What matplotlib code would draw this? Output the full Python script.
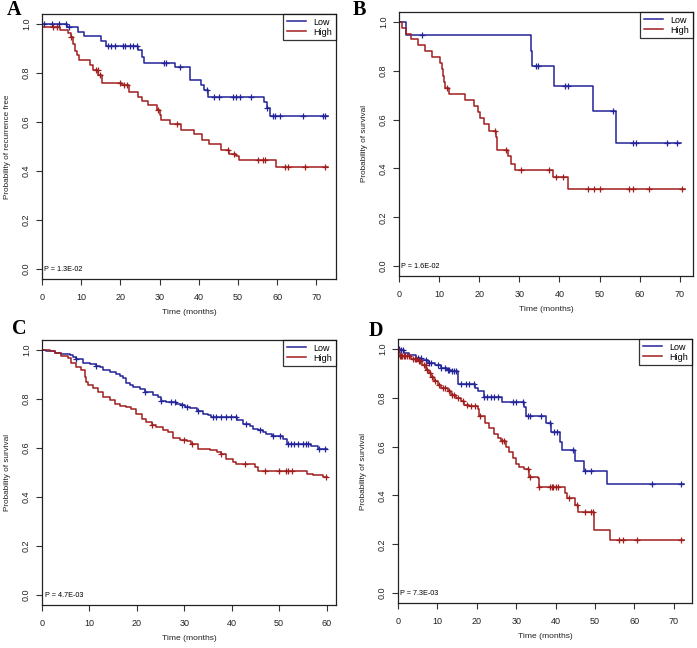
import matplotlib
matplotlib.use("Agg")
import matplotlib.pyplot as plt
import numpy as np

plt.rcParams["font.family"] = ["Liberation Sans", "DejaVu Sans"]

BLUE = "#23239a"
RED = "#a01e1e"

# Panel A - recurrence free (step times in months, survival after step, censor times)
a_low_t = [6.5, 9.3, 10.6, 15.1, 16.3, 24.6, 25.5, 26.1, 34.0, 37.8, 40.6, 41.3, 42.3, 56.6, 57.5, 58.1]
a_low_s = [0.985, 0.967, 0.95, 0.93, 0.91, 0.893, 0.865, 0.842, 0.824, 0.773, 0.75, 0.729, 0.70, 0.68, 0.657, 0.623]
a_low_c = [0.5, 2.6, 4.3, 6.2, 6.9, 16.8, 17.6, 18.5, 20.6, 21.2, 22.5, 23.3, 24.2, 31.0, 31.6, 35.3, 42.0,
           43.9, 45.1, 48.7, 49.4, 50.4, 53.4, 57.5, 58.9, 59.5, 60.6, 66.6, 71.7, 72.1]
a_high_t = [0.1, 4.6, 6.7, 7.4, 8.0, 8.3, 8.9, 9.5, 12.3, 13.1, 14.4, 15.2, 20.3, 22.2, 24.6, 25.4, 27.0,
            29.3, 30.0, 30.3, 32.7, 35.5, 38.9, 40.8, 42.5, 45.7, 47.6, 49.6, 50.2, 59.6]
a_high_s = [0.988, 0.974, 0.962, 0.947, 0.917, 0.89, 0.872, 0.854, 0.831, 0.81, 0.79, 0.76, 0.75, 0.722,
            0.702, 0.686, 0.668, 0.65, 0.627, 0.61, 0.59, 0.569, 0.55, 0.528, 0.509, 0.487, 0.471, 0.46,
            0.446, 0.416]
a_high_c = [2.9, 3.8, 7.4, 13.9, 14.3, 14.9, 19.9, 21.0, 21.6, 29.6, 34.4, 47.4, 49.0, 55.1, 56.4, 56.8,
            61.9, 62.8, 67.0, 72.3]

# Panel B - survival
b_low_t = [1.8, 32.8, 33.2, 38.7, 48.4, 54.2]
b_low_s = [0.945, 0.88, 0.818, 0.736, 0.634, 0.504]
b_low_c = [5.7, 34.2, 34.7, 41.5, 42.1, 53.4, 58.4, 59.2, 66.9, 69.4]
b_high_t = [0.8, 1.8, 3.1, 4.7, 6.6, 8.2, 10.3, 10.6, 10.9, 11.1, 11.4, 12.4, 16.5, 18.7, 19.6, 20.3,
            21.2, 22.4, 24.2, 24.4, 27.2, 28.0, 28.8, 38.4, 42.2]
b_high_s = [0.975, 0.95, 0.93, 0.905, 0.88, 0.855, 0.83, 0.805, 0.78, 0.755, 0.73, 0.706, 0.68, 0.655,
            0.63, 0.605, 0.58, 0.555, 0.53, 0.475, 0.45, 0.42, 0.395, 0.365, 0.316]
b_high_c = [12.0, 23.9, 26.8, 30.5, 37.3, 39.2, 41.0, 47.0, 48.6, 50.0, 57.3, 58.4, 62.3, 70.6]

# Panel C - survival
c_low_t = [0.9, 2.7, 4.1, 5.8, 6.5, 7.2, 8.6, 10.1, 11.3, 12.2, 12.9, 14.3, 15.7, 16.4, 17.1, 17.8, 18.5,
           19.2, 20.6, 21.7, 23.4, 24.5, 25.0, 26.2, 28.3, 29.4, 30.1, 31.2, 32.6, 34.0, 35.0, 35.7, 41.1,
           42.4, 43.8, 44.5, 45.6, 46.6, 47.3, 48.4, 50.8, 51.7, 56.8, 58.2]
c_low_s = [0.996, 0.989, 0.982, 0.980, 0.970, 0.962, 0.948, 0.941, 0.934, 0.928, 0.918, 0.911, 0.902,
           0.893, 0.884, 0.866, 0.857, 0.850, 0.840, 0.829, 0.816, 0.806, 0.791, 0.788, 0.781, 0.775,
           0.765, 0.761, 0.751, 0.740, 0.734, 0.727, 0.716, 0.699, 0.689, 0.679, 0.672, 0.665, 0.658,
           0.648, 0.638, 0.617, 0.607, 0.597]
c_low_c = [7.2, 11.3, 21.8, 25.0, 27.1, 28.0, 29.6, 30.6, 32.8, 36.0, 36.7, 37.8, 38.8, 39.9, 40.9, 43.1,
           45.9, 48.7, 50.1, 51.8, 52.5, 53.2, 54.0, 55.0, 55.7, 56.0, 58.5, 59.6]
c_high_t = [1.6, 2.7, 4.1, 5.5, 6.2, 7.2, 8.3, 9.0, 9.2, 9.7, 10.8, 11.8, 12.9, 14.3, 15.3, 16.4, 17.8,
            18.8, 19.9, 21.0, 22.0, 23.1, 24.1, 25.5, 26.6, 27.6, 29.0, 30.5, 31.5, 32.9, 35.4, 36.8,
            37.8, 38.9, 40.3, 41.0, 42.8, 44.9, 45.6, 47.3, 55.8, 57.2, 59.3]
c_high_s = [0.997, 0.986, 0.975, 0.966, 0.948, 0.932, 0.918, 0.891, 0.870, 0.857, 0.843, 0.829, 0.806,
            0.795, 0.781, 0.770, 0.765, 0.757, 0.740, 0.720, 0.706, 0.693, 0.686, 0.675, 0.665, 0.642,
            0.634, 0.628, 0.615, 0.597, 0.593, 0.583, 0.574, 0.556, 0.542, 0.536, 0.533, 0.522, 0.508,
            0.505, 0.495, 0.488, 0.481]
c_high_c = [23.2, 29.9, 31.6, 37.8, 42.8, 47.0, 49.9, 51.5, 51.8, 52.7, 59.8]

# Panel D - survival
d_low_t = [0.6, 1.5, 2.9, 4.6, 5.9, 7.6, 9.3, 11.0, 12.5, 13.5, 15.1, 19.5, 20.2, 21.7, 26.5, 32.0, 32.5,
           37.6, 38.7, 41.0, 41.6, 44.8, 47.3, 53.1]
d_low_s = [0.993, 0.983, 0.973, 0.964, 0.953, 0.942, 0.933, 0.923, 0.915, 0.908, 0.856, 0.840, 0.826,
           0.801, 0.781, 0.76, 0.725, 0.696, 0.659, 0.62, 0.586, 0.541, 0.50, 0.445]
d_low_c = [0.3, 0.8, 1.2, 5.2, 5.8, 7.0, 7.9, 8.4, 10.1, 11.0, 11.8, 12.6, 13.0, 13.7, 14.3, 14.8, 16.0,
           17.2, 18.1, 19.4, 21.9, 22.7, 23.6, 24.4, 25.3, 29.1, 29.9, 31.6, 32.9, 33.6, 36.3, 38.5, 39.7,
           40.4, 44.4, 47.5, 49.0, 64.4, 71.7]
d_high_t = [0.2, 0.4, 3.3, 5.0, 6.0, 7.1, 7.9, 8.4, 9.2, 10.1, 10.9, 12.6, 13.4, 14.7, 16.0, 16.8, 18.1,
            20.2, 20.6, 22.1, 23.2, 24.4, 25.3, 26.1, 27.4, 28.2, 29.1, 29.9, 30.8, 32.0, 33.3, 35.4,
            35.8, 42.4, 42.9, 44.8, 45.8, 49.7, 53.9]
d_high_s = [0.985, 0.970, 0.960, 0.949, 0.933, 0.915, 0.90, 0.884, 0.867, 0.853, 0.840, 0.826, 0.810,
            0.799, 0.785, 0.771, 0.764, 0.755, 0.727, 0.696, 0.675, 0.651, 0.634, 0.621, 0.600, 0.579,
            0.552, 0.527, 0.518, 0.507, 0.477, 0.470, 0.436, 0.412, 0.388, 0.36, 0.333, 0.258, 0.219]
d_high_c = [0.5, 0.8, 1.1, 1.4, 1.7, 2.2, 2.7, 3.8, 4.2, 4.6, 5.3, 5.6, 6.5, 7.0, 7.4, 8.0, 8.6, 9.3,
            10.5, 11.5, 12.0, 13.0, 13.6, 14.2, 15.2, 16.5, 17.5, 18.5, 19.6, 20.8, 26.3, 27.0, 33.0,
            33.6, 35.9, 38.5, 39.1, 39.4, 40.2, 40.7, 43.5, 45.5, 47.5, 48.9, 49.5, 56.0, 57.2, 60.7, 71.9]

panels = [
    dict(letter="A", at=(7, 10), box=(42, 14, 336, 279), xmax=75.0, xticks=range(0, 71, 10),
         ylabel="Probability of recurrence free", p="P = 1.3E-02",
         low=(a_low_t, a_low_s, a_low_c, 73.0), high=(a_high_t, a_high_s, a_high_c, 73.0)),
    dict(letter="B", at=(353, 10), box=(399, 12, 693, 276), xmax=73.3, xticks=range(0, 71, 10),
         ylabel="Probability of survival", p="P = 1.6E-02",
         low=(b_low_t, b_low_s, b_low_c, 70.2), high=(b_high_t, b_high_s, b_high_c, 71.2)),
    dict(letter="C", at=(12, 329), box=(42, 340, 336, 605), xmax=62.0, xticks=range(0, 61, 10),
         ylabel="Probability of survival", p="P = 4.7E-03",
         low=(c_low_t, c_low_s, c_low_c, 60.0), high=(c_high_t, c_high_s, c_high_c, 60.0)),
    dict(letter="D", at=(369, 331), box=(398, 339, 692, 603), xmax=74.6, xticks=range(0, 71, 10),
         ylabel="Probability of survival", p="P = 7.3E-03",
         low=(d_low_t, d_low_s, d_low_c, 72.5), high=(d_high_t, d_high_s, d_high_c, 72.5)),
]

W, H = 697, 648
fig = plt.figure(figsize=(W / 100, H / 100), dpi=100)


def km(ax, times, surv, cens, tend, color, label):
    t = np.concatenate([[0.0], times, [tend]])
    s = np.concatenate([[1.0], surv, [surv[-1]]])
    ax.step(t, s, where="post", color=color, lw=1.1, label=label)
    cens = np.asarray(cens)
    idx = np.searchsorted(t, cens, side="right") - 1
    ax.plot(cens, s[idx], ls="none", marker="+", ms=5, mew=0.9, color=color)


for p in panels:
    x0, y0, x1, y1 = p["box"]
    ax = fig.add_axes([x0 / W, 1 - y1 / H, (x1 - x0) / W, (y1 - y0) / H])
    km(ax, *p["low"], BLUE, "Low")
    km(ax, *p["high"], RED, "High")
    ax.set_xlim(0, p["xmax"])
    ax.set_ylim(-0.04, 1.04)
    ax.set_xticks(list(p["xticks"]))
    ax.set_yticks(np.arange(0, 1.01, 0.2))
    ax.set_yticklabels(["0.0", "0.2", "0.4", "0.6", "0.8", "1.0"], rotation=90, va="center")
    ax.tick_params(labelsize=6.5, length=4, width=0.8, color="#333333", labelcolor="#222222")
    ax.tick_params(axis="x", pad=6)
    ax.tick_params(axis="y", pad=4)
    for sp in ax.spines.values():
        sp.set_color("#222222")
        sp.set_linewidth(0.9)
    ax.set_xlabel("Time (months)", fontsize=6.1, color="#222222")
    ax.xaxis.set_label_coords(0.5, -0.113)
    ax.set_ylabel(p["ylabel"], fontsize=5.9, color="#222222")
    ax.yaxis.set_label_coords(-0.105, 0.5)
    ax.text(0.6, 0.0, p["p"], fontsize=5.2, va="center", ha="left")
    leg = ax.legend(loc="upper right", fontsize=6.5, frameon=True, fancybox=False,
                    borderaxespad=0, handlelength=2.2, handletextpad=0.8, borderpad=0.4,
                    labelspacing=0.1)
    leg.get_frame().set_edgecolor("black")
    leg.get_frame().set_linewidth(0.9)
    lx, ly = p["at"]
    fig.text(lx / W, 1 - ly / H, p["letter"], fontsize=14.5, fontweight="bold",
             family="Liberation Serif", va="center", ha="left")

fig.savefig("out.png", dpi=100)
